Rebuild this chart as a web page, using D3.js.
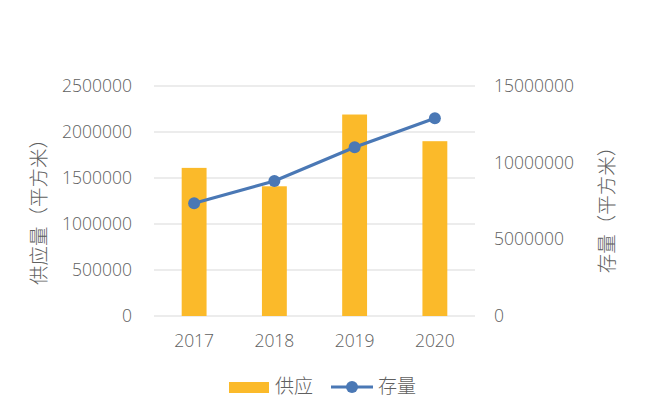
<!DOCTYPE html>
<html>
<head>
<meta charset="utf-8">
<script src="https://cdn.jsdelivr.net/npm/d3@7"></script>
<style>
  body { margin: 0; background: #fff; }
  svg { font-family: "Open Sans", "Noto Sans CJK SC", sans-serif; font-weight: 300; }
</style>
</head>
<body>
<svg id="chart" width="650" height="417"></svg>
<script>
let years = ["2017", "2018", "2019", "2020"]
let supply = [1610000, 1410000, 2190000, 1900000]
let stock = [7350000, 8800000, 11000000, 12900000]
let leftTicks = [0, 500000, 1000000, 1500000, 2000000, 2500000]
let rightTicks = [0, 5000000, 10000000, 15000000]

let barColor = "#fbba2a"
let lineColor = "#4a78b5"
let textColor = "#606060"
let fontSize = "17.5px"
let cjkFont = "'Noto Sans CJK SC', sans-serif"

let svg = d3.select("#chart")
let plotLeft = 154, plotRight = 475, plotTop = 86, plotBottom = 316

let x = d3.scaleBand().domain(years).range([plotLeft, plotRight]).paddingInner(0.69).paddingOuter(0.345)
let y = d3.scaleLinear().domain([0, 2500000]).range([plotBottom, plotTop])
let y2 = d3.scaleLinear().domain([0, 15000000]).range([plotBottom, plotTop])

// gridlines
svg.append("g")
  .selectAll("line")
  .data(leftTicks)
  .join("line")
  .attr("x1", plotLeft)
  .attr("x2", plotRight)
  .attr("y1", d => y(d))
  .attr("y2", d => y(d))
  .style("stroke", "#d9d9d9")
  .style("stroke-width", 1)

// left axis
let yAxis = svg.append("g")
  .attr("transform", "translate(" + (plotLeft - 22) + ",0)")
  .call(d3.axisLeft(y).tickValues(leftTicks).tickFormat(d3.format("d")).tickSize(0).tickPadding(0))
yAxis.select(".domain").remove()
yAxis.selectAll("text").style("font-size", fontSize).style("fill", textColor).style("font-family", "'Open Sans', sans-serif")

// right axis
let y2Axis = svg.append("g")
  .attr("transform", "translate(" + (plotRight + 19) + ",0)")
  .call(d3.axisRight(y2).tickValues(rightTicks).tickFormat(d3.format("d")).tickSize(0).tickPadding(0))
y2Axis.select(".domain").remove()
y2Axis.selectAll("text").style("font-size", fontSize).style("fill", textColor).style("font-family", "'Open Sans', sans-serif")

// x axis
let xAxis = svg.append("g")
  .attr("transform", "translate(0," + (plotBottom + 19) + ")")
  .call(d3.axisBottom(x).tickSize(0).tickPadding(0))
xAxis.select(".domain").remove()
xAxis.selectAll("text").style("font-size", fontSize).style("fill", textColor).style("font-family", "'Open Sans', sans-serif")

// bars
svg.append("g")
  .selectAll("rect")
  .data(supply)
  .join("rect")
  .attr("x", (d, i) => x(years[i]))
  .attr("y", d => y(d))
  .attr("width", x.bandwidth())
  .attr("height", d => plotBottom - y(d))
  .style("fill", barColor)

// line
let line = d3.line()
  .x((d, i) => x(years[i]) + x.bandwidth() / 2)
  .y(d => y2(d))

svg.append("path")
  .datum(stock)
  .attr("d", line)
  .style("fill", "none")
  .style("stroke", lineColor)
  .style("stroke-width", 3.2)

svg.append("g")
  .selectAll("circle")
  .data(stock)
  .join("circle")
  .attr("cx", (d, i) => x(years[i]) + x.bandwidth() / 2)
  .attr("cy", d => y2(d))
  .attr("r", 6)
  .style("fill", lineColor)

// axis titles
svg.append("text")
  .attr("transform", "translate(41,207) rotate(-90)")
  .attr("text-anchor", "middle")
  .attr("dominant-baseline", "middle")
  .style("font-family", cjkFont)
  .style("font-size", "19.5px")
  .style("fill", textColor)
  .text("供应量（平方米）")

svg.append("text")
  .attr("transform", "translate(609,205) rotate(-90)")
  .attr("text-anchor", "middle")
  .attr("dominant-baseline", "middle")
  .style("font-family", cjkFont)
  .style("font-size", "19.5px")
  .style("fill", textColor)
  .text("存量（平方米）")

// legend
svg.append("rect")
  .attr("x", 229)
  .attr("y", 382)
  .attr("width", 40)
  .attr("height", 11)
  .style("fill", barColor)
svg.append("text")
  .attr("x", 275)
  .attr("y", 388)
  .attr("dominant-baseline", "middle")
  .style("font-family", cjkFont)
  .style("font-size", "19px")
  .style("fill", textColor)
  .text("供应")

svg.append("line")
  .attr("x1", 331)
  .attr("x2", 373)
  .attr("y1", 387)
  .attr("y2", 387)
  .style("stroke", lineColor)
  .style("stroke-width", 3.2)
svg.append("circle")
  .attr("cx", 352)
  .attr("cy", 387)
  .attr("r", 6)
  .style("fill", lineColor)
svg.append("text")
  .attr("x", 378)
  .attr("y", 388)
  .attr("dominant-baseline", "middle")
  .style("font-family", cjkFont)
  .style("font-size", "19px")
  .style("fill", textColor)
  .text("存量")
</script>
</body>
</html>
